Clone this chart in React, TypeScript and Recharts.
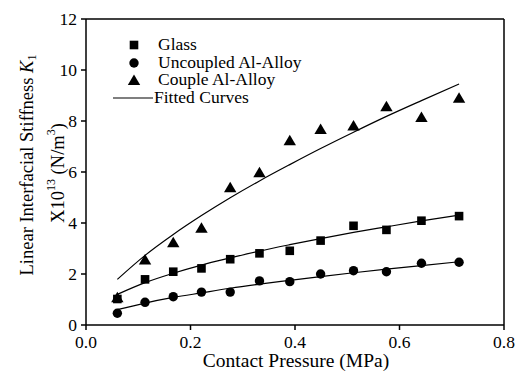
import {
  ComposedChart,
  Line,
  ReferenceLine,
  Scatter,
  XAxis,
  YAxis,
} from "recharts";

const FONT = '"Liberation Serif", "Times New Roman", serif';

// contact pressure (MPa) for each measurement
const pressure = [0.06, 0.113, 0.167, 0.221, 0.276, 0.332, 0.39, 0.449, 0.512, 0.575, 0.642, 0.714];

// measured stiffness (x10^13 N/m^3)
const glass = [1.02, 1.79, 2.09, 2.22, 2.58, 2.81, 2.91, 3.31, 3.89, 3.73, 4.09, 4.27];
const uncoupled = [0.46, 0.89, 1.11, 1.29, 1.29, 1.73, 1.7, 2.0, 2.13, 2.09, 2.42, 2.46];
const coupled = [1.07, 2.55, 3.23, 3.79, 5.38, 5.97, 7.23, 7.67, 7.8, 8.56, 8.14, 8.89];

// fitted curves, read at the same pressures
const glassFit = [1.2, 1.66, 2.03, 2.35, 2.63, 2.9, 3.15, 3.39, 3.63, 3.85, 4.08, 4.31];
const uncoupledFit = [0.6, 0.86, 1.08, 1.26, 1.44, 1.6, 1.75, 1.9, 2.05, 2.19, 2.33, 2.48];
const coupledFit = [1.79, 2.73, 3.55, 4.29, 4.99, 5.65, 6.29, 6.92, 7.56, 8.18, 8.8, 9.45];

const xTicks = [0, 0.2, 0.4, 0.6, 0.8];
const yTicks = [0, 2, 4, 6, 8, 10, 12];

const rows = pressure.map((p, i) => ({
  p,
  glass: glass[i],
  uncoupled: uncoupled[i],
  coupled: coupled[i],
  glassFit: glassFit[i],
  uncoupledFit: uncoupledFit[i],
  coupledFit: coupledFit[i],
}));

type Pt = { cx?: number; cy?: number };

const Square = ({ cx = 0, cy = 0 }: Pt) => (
  <rect x={cx - 4.3} y={cy - 4.3} width={8.6} height={8.6} fill="#000" />
);
const Dot = ({ cx = 0, cy = 0 }: Pt) => <circle cx={cx} cy={cy} r={4.7} fill="#000" />;
const Tri = ({ cx = 0, cy = 0 }: Pt) => (
  <polygon points={`${cx},${cy - 6} ${cx + 6.2},${cy + 4.5} ${cx - 6.2},${cy + 4.5}`} fill="#000" />
);

const tickTxt = { fontFamily: FONT, fontSize: 17.5, fill: "#000" };
const titleTxt = { fontFamily: FONT, fontSize: 18.5, fill: "#000" };

function XTick({ x, y, payload }: any) {
  return (
    <text x={x} y={y} dy={13} textAnchor="middle" style={tickTxt}>
      {Number(payload.value).toFixed(1)}
    </text>
  );
}

function YTick({ x, y, payload }: any) {
  return (
    <text x={x} y={y} dy={6} textAnchor="end" style={tickTxt}>
      {payload.value}
    </text>
  );
}

function LegendBox() {
  const row = { display: "flex", alignItems: "center", height: 17.7 } as const;
  const mark = { width: 40, display: "flex", justifyContent: "center" } as const;
  return (
    <div
      style={{
        position: "absolute",
        left: 114,
        top: 36,
        fontFamily: FONT,
        fontSize: 17.5,
        color: "#000",
        lineHeight: 1,
      }}
    >
      <div style={row}>
        <div style={mark}>
          <svg width={12} height={12}><rect x={1.7} y={1.7} width={8.6} height={8.6} fill="#000" /></svg>
        </div>
        <span style={{ marginLeft: 4 }}>Glass</span>
      </div>
      <div style={row}>
        <div style={mark}>
          <svg width={12} height={12}><circle cx={6} cy={6} r={4.7} fill="#000" /></svg>
        </div>
        <span style={{ marginLeft: 4 }}>Uncoupled Al-Alloy</span>
      </div>
      <div style={row}>
        <div style={mark}>
          <svg width={14} height={12}><polygon points="7,0.5 13.2,11 0.8,11" fill="#000" /></svg>
        </div>
        <span style={{ marginLeft: 4 }}>Couple Al-Alloy</span>
      </div>
      <div style={row}>
        <div style={{ ...mark, marginLeft: -1 }}>
          <svg width={40} height={4}><line x1={0} y1={2} x2={40} y2={2} stroke="#000" strokeWidth={1.2} /></svg>
        </div>
        <span style={{ marginLeft: 1 }}>Fitted Curves</span>
      </div>
    </div>
  );
}

function YTitle() {
  return (
    <g>
      <text x={27} y={165} transform="rotate(-90, 27, 165)" textAnchor="middle" dominantBaseline="central" style={titleTxt}>
        Linear Interfacial Stiffness{" "}
        <tspan style={{ fontStyle: "italic" }}>K</tspan>
        <tspan style={{ fontSize: 12 }} dy={5}>1</tspan>
      </text>
      <text x={58} y={173} transform="rotate(-90, 58, 173)" textAnchor="middle" dominantBaseline="central" style={titleTxt}>
        X10
        <tspan style={{ fontSize: 12 }} dy={-7}>13</tspan>
        <tspan dy={7}> (N/m</tspan>
        <tspan style={{ fontSize: 12 }} dy={-7}>3</tspan>
        <tspan dy={7}>)</tspan>
      </text>
    </g>
  );
}

function XTitle() {
  return (
    <text x={296} y={367} textAnchor="middle" style={{ ...titleTxt, fontSize: 19.5 }}>
      Contact Pressure (MPa)
    </text>
  );
}

export default function App() {
  return (
    <div style={{ position: "absolute", left: 0, top: 0, width: 522, height: 372, background: "#fff" }}>
      <ComposedChart
        width={522}
        height={372}
        data={rows}
        margin={{ top: 19, right: 18, left: 0, bottom: 0 }}
        style={{ fontFamily: FONT }}
      >
        <XAxis
          dataKey="p"
          type="number"
          domain={[0, 0.8]}
          ticks={xTicks}
          tick={<XTick />}
          height={47}
          stroke="#000"
          strokeWidth={1.5}
          tickSize={5}
          tickMargin={5}
          label={{ content: () => <XTitle /> }}
        />
        <YAxis
          type="number"
          domain={[0, 12]}
          ticks={yTicks}
          tick={<YTick />}
          width={86}
          stroke="#000"
          strokeWidth={1.5}
          tickSize={5}
          tickMargin={4}
          label={{ content: () => <YTitle /> }}
        />
        <ReferenceLine y={12} stroke="#000" strokeWidth={1.5} />
        <ReferenceLine x={0.8} stroke="#000" strokeWidth={1.5} />
        <Line dataKey="glassFit" type="monotone" stroke="#000" strokeWidth={1.2} dot={false} isAnimationActive={false} />
        <Line dataKey="uncoupledFit" type="monotone" stroke="#000" strokeWidth={1.2} dot={false} isAnimationActive={false} />
        <Line dataKey="coupledFit" type="monotone" stroke="#000" strokeWidth={1.2} dot={false} isAnimationActive={false} />
        <Scatter dataKey="glass" shape={<Square />} isAnimationActive={false} />
        <Scatter dataKey="uncoupled" shape={<Dot />} isAnimationActive={false} />
        <Scatter dataKey="coupled" shape={<Tri />} isAnimationActive={false} />
      </ComposedChart>
      <LegendBox />
    </div>
  );
}
